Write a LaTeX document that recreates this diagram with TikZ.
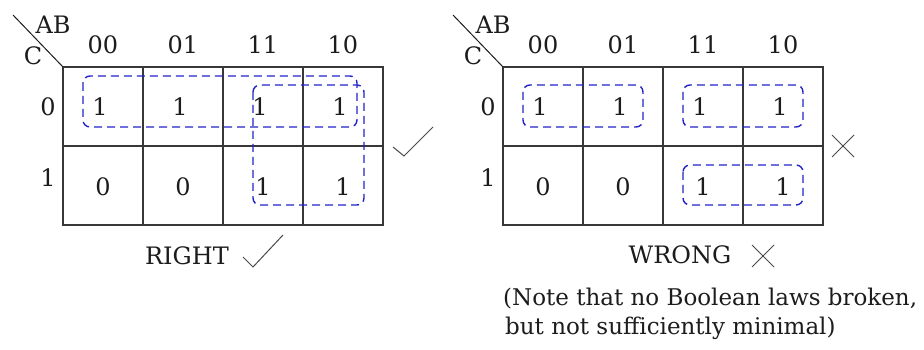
\documentclass[tikz,border=0pt]{standalone}
\usepackage{fontspec}
\setmainfont{DejaVu Serif}
\usepackage{tikz}
\usetikzlibrary{positioning,calc}
\definecolor{Ink}{HTML}{1C1C1C}
\definecolor{Cell}{HTML}{383838}
\definecolor{Loop}{HTML}{2424C8}
\tikzset{
  txt/.style={inner sep=0pt,font=\fontsize{24}{28}\selectfont,text=Ink},
  notetxt/.style={txt,font=\fontsize{23}{28}\selectfont,anchor=base west},
  gridline/.style={draw=Cell,line width=1.5pt},
  corner/.style={draw=Ink,line width=1pt},
  loop/.style={draw=Loop,line width=1.4pt,dash pattern=on 8pt off 5pt,rounded corners=7pt},
  okmark/.style={draw=Ink!80,line width=1pt},
  nomark/.style={draw=Ink!80,line width=1pt}
}

\begin{document}
\begin{tikzpicture}[x=1pt,y=-1pt]
  \useasboundingbox (0,0) rectangle (924,350);
  % the two maps, identical apart from the loops
  \foreach \ox/\m in {0/L,440/R} {
    \begin{scope}[shift={(\ox,0)}]
      \draw[gridline] (63,67) rectangle (383,225);
      \draw[gridline] (63,146) -- (383,146);
      \foreach \gx in {143,223,303} \draw[gridline] (\gx,67) -- (\gx,225);
      \draw[corner] (13,15) -- (63,67);
      \node[txt] (\m-ab) at (53,25) {AB};
      \node[txt] (\m-c) at (33,56) {C};
      \node[txt] (\m-r0) at (48,107) {0};
      \node[txt] (\m-r1) at (48,178) {1};
      \foreach \code [count=\i] in {00,01,11,10} {
        \node[txt] (\m-h\i) at (23+80*\i,45) {\code};
        \node[txt] (\m-a\i) at (20+80*\i,107) {1};
      }
      \foreach \v [count=\i] in {0,0,1,1}
        \node[txt] (\m-b\i) at (23+80*\i,187) {\v};
    \end{scope}
  }
  % groupings
  \draw[loop] (83,76) rectangle (357,127);
  \draw[loop] (253,85) rectangle (364,205);
  \draw[loop] (523,85) rectangle (643,127);
  \draw[loop] (683,85) rectangle (803,127);
  \draw[loop] (683,165) rectangle (803,205);
  % verdicts
  \draw[okmark] (393,147) -- (404,156) -- (433,127);
  \node[txt] (right) at (187,256) {RIGHT};
  \draw[okmark] (243,257) -- (253,267) -- (283,235);
  \draw[nomark] (832,135) -- (854,157) (832,157) -- (854,135);
  \node[txt] (wrong) at (680,255) {WRONG};
  \draw[nomark] (752,245) -- (774,267) (752,267) -- (774,245);
  \node[notetxt] (note1) at (503,305) {(Note that no Boolean laws broken,};
  \node[notetxt] (note2) at ($(note1.base west)+(2,29)$) {but not sufficiently minimal)};
\end{tikzpicture}
\end{document}
